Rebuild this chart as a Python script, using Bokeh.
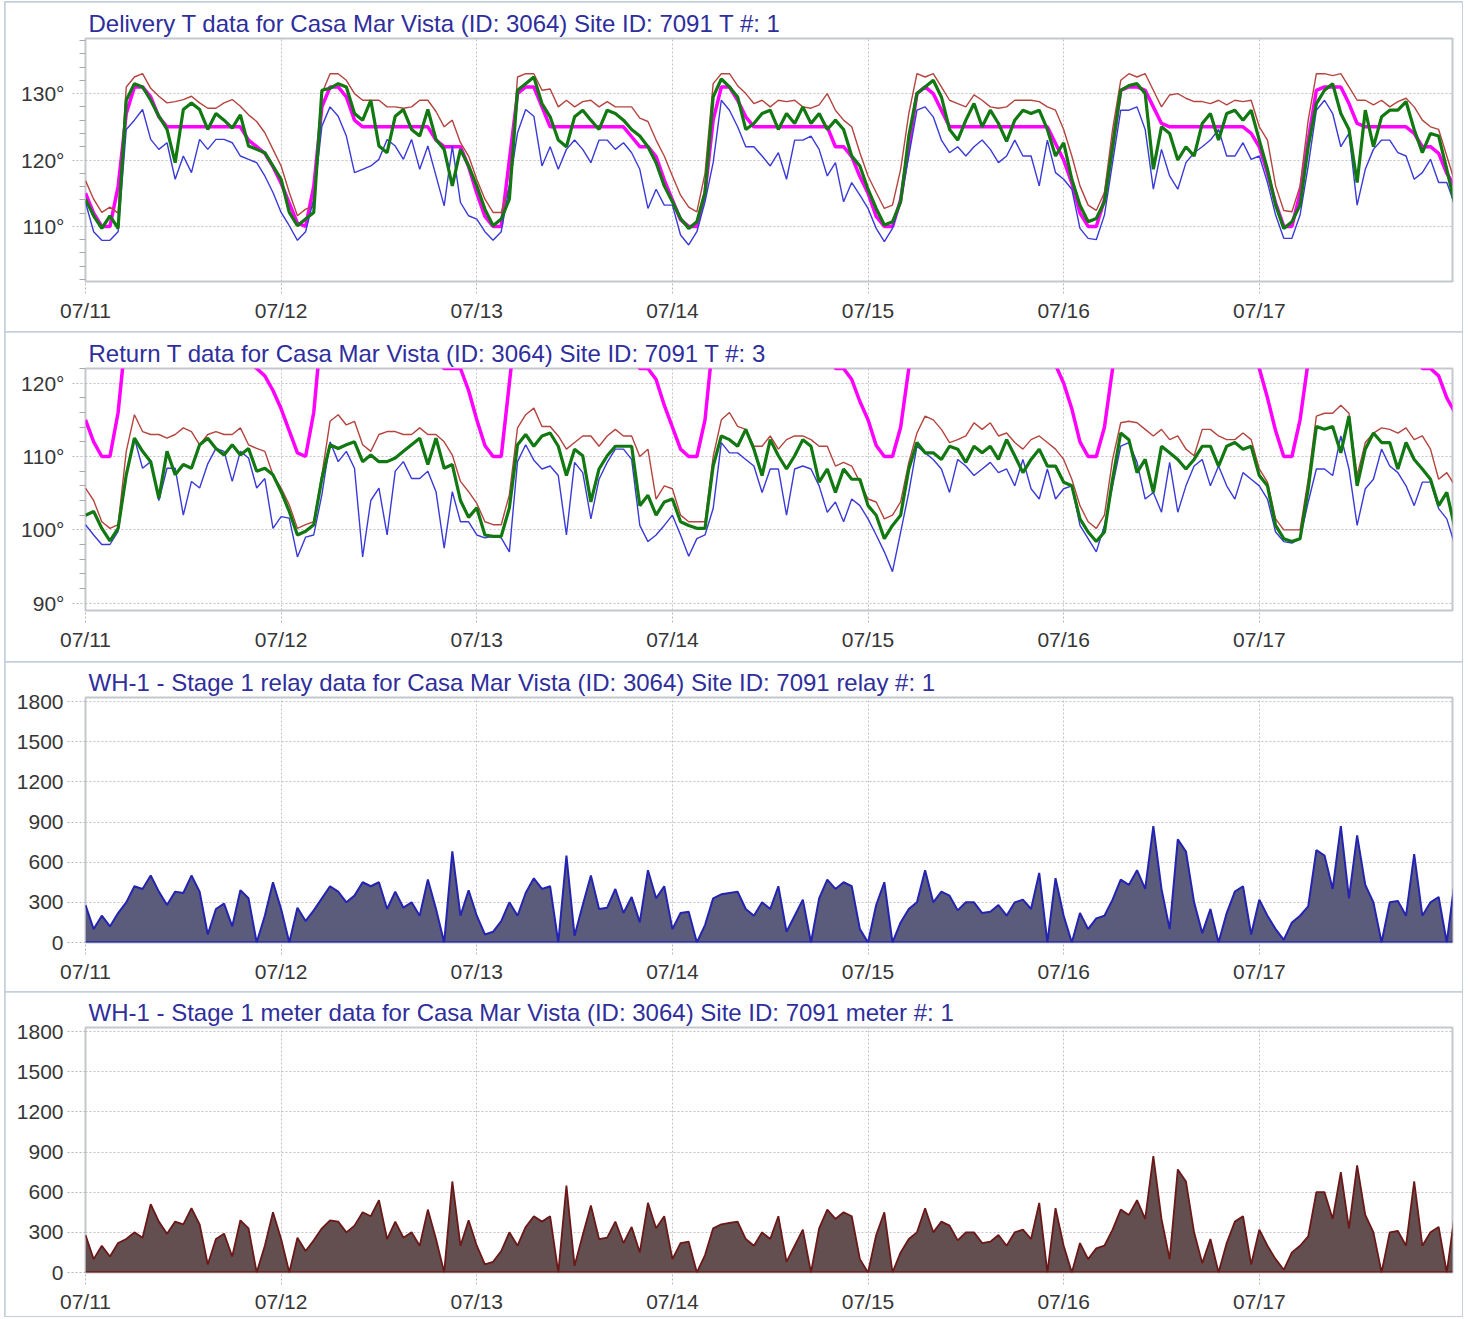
import numpy as np
from bokeh.plotting import figure
from bokeh.models import FixedTicker, Span, Range1d
from bokeh.layouts import column
from bokeh.embed import file_html
from bokeh.resources import INLINE

# ---------------- data ----------------
day_labels = ["07/11", "07/12", "07/13", "07/14", "07/15", "07/16", "07/17"]
day_ticks = [0, 24, 48, 72, 96, 120, 144]   # hours since 07/11 00:00

titles = [
    "Delivery T data for Casa Mar Vista (ID: 3064) Site ID: 7091 T #: 1",
    "Return T data for Casa Mar Vista (ID: 3064) Site ID: 7091 T #: 3",
    "WH-1 - Stage 1 relay data for Casa Mar Vista (ID: 3064) Site ID: 7091 relay #: 1",
    "WH-1 - Stage 1 meter data for Casa Mar Vista (ID: 3064) Site ID: 7091 meter #: 1",
]

temp1_ticks = [110, 120, 130]
temp2_ticks = [90, 100, 110, 120]
kw_ticks = [0, 300, 600, 900, 1200, 1500, 1800]

# hourly values, 07/11 00:00 .. 07/18 00:00
setpoint = [
    115, 112, 110, 110, 116, 127, 131, 131, 129.5, 126.5, 125, 125, 125, 125, 125, 125, 125, 125, 125, 125, 123, 122, 121, 119,
    116.5, 113.5, 110.5, 110, 116, 128, 131, 131, 129.5, 126, 125, 125, 125, 125, 125, 125, 125, 125, 125, 123, 122, 122, 122, 119,
    115, 111.5, 110, 110, 120, 130, 131, 131, 128, 125, 125, 125, 125, 125, 125, 125, 125, 125, 125, 123.5, 122, 122, 120.5, 117,
    114, 111, 110, 110, 115, 126, 131, 131, 129, 126.5, 125, 125, 125, 125, 125, 125, 125, 125, 125, 125, 122, 122, 120.5, 117.5,
    115, 111.5, 110, 110, 114, 122, 130, 131, 130, 127.5, 125, 125, 125, 125, 125, 125, 125, 125, 125, 125, 125, 125, 125, 122.5,
    120, 116.5, 112, 110, 110, 114, 122, 130.5, 131, 131, 130.5, 128, 125.5, 125, 125, 125, 125, 125, 125, 125, 125, 125, 125, 124,
    122, 118, 113.5, 110, 110, 115, 123, 130.5, 131, 131, 131, 128.5, 125.5, 125, 125, 125, 125, 125, 125, 124, 122, 122, 121, 118,
    116,
]
delivery_max = [
    116.9, 114.1, 112.1, 112.9, 112, 131, 132.5, 133, 130.8, 129.6, 128.6, 128.8, 129.1, 129.6, 128.6, 127.8, 127.8, 128.6, 129.1, 128.1, 126.8, 125.8, 124.1, 121.6,
    119.1, 115.1, 111.6, 112.6, 113, 130, 133, 133, 132, 130, 129, 129, 129, 128, 128, 127.8, 128, 129, 129, 127.3, 125, 126, 122.6, 120.6,
    117.1, 114.1, 112.1, 112.1, 116, 132.5, 133, 133, 130.5, 130.7, 128, 129, 128, 128.8, 129, 128, 128.8, 128, 128, 128, 126.3, 125.8, 123, 120.6,
    117.6, 114.7, 112.9, 112.2, 118, 131.5, 133, 133, 131.2, 130, 128.5, 129, 128, 129, 128.8, 129, 128, 127.8, 128.3, 130, 127.5, 126, 125, 121.1,
    117.6, 115.1, 112.7, 113.2, 118.6, 127, 133, 132.5, 133, 131, 129, 128.5, 128, 129.8, 129, 128, 127.8, 128, 129, 129, 129, 128.8, 128, 127.5,
    124.6, 120.6, 116.1, 113.2, 112.4, 115.1, 124.6, 132, 133, 132.5, 133, 130.5, 128, 129.8, 130, 129.3, 128.8, 128.8, 128.5, 129, 128.3, 129, 128.8, 129,
    125, 123, 116.1, 112.4, 112.2, 116.1, 126, 133, 133, 132.7, 133, 131, 129, 129, 128.3, 129, 128, 128.8, 129.3, 128, 126, 125, 124.6, 120.6,
    116.6,
]
delivery_avg = [
    114.1, 111.6, 109.7, 111.6, 109.7, 129, 131.5, 131, 129, 126.6, 124.6, 119.6, 127.6, 128.6, 127.6, 124.6, 127, 126, 124.8, 126.8, 122.1, 121.6, 121.1, 119.1,
    117.1, 112.1, 110.1, 111.1, 112.1, 130.5, 130.8, 131.5, 131, 127, 126, 129, 122.1, 121.1, 126.6, 127.6, 124.6, 123.6, 127.6, 123.1, 121.6, 116.1, 121.6, 119.1,
    116.1, 112.6, 110.1, 111.1, 114.1, 130.5, 131.5, 132.5, 128.5, 126.5, 123, 122, 126.5, 127.5, 126, 124.6, 127.5, 127, 126, 124.6, 123.6, 122, 119.6, 116.1,
    113.7, 111.2, 109.7, 110.7, 115.1, 129.5, 132.2, 131, 129.5, 124.6, 125.5, 127, 127.5, 124.6, 127, 125.5, 128, 125.5, 127, 124.6, 126, 124.6, 120.6, 119.1,
    115.6, 112.7, 110.2, 110.7, 113.7, 123.6, 130, 131, 132, 129.5, 124.6, 123, 126, 128.5, 125, 127.5, 125.5, 122.8, 126, 127.5, 127, 127.5, 124.6, 120.6,
    122.6, 117.1, 113.2, 110.7, 111.2, 113.7, 122, 130.5, 131.2, 131.5, 130, 118.6, 125, 124, 120, 122, 120.6, 125.5, 127, 123, 127, 127.5, 126, 127.5,
    123, 118.6, 113.2, 109.7, 110.7, 113.2, 122, 128.5, 130.5, 131.5, 127, 124.6, 116.6, 127.5, 122, 126.5, 127.5, 127.5, 128.8, 124.6, 121.1, 124, 123.6, 118.6,
    113.2,
]
delivery_min = [
    113.6, 109.2, 107.9, 107.9, 109.2, 124.6, 126, 127.6, 123.1, 121.6, 122.6, 117.1, 120.6, 118.1, 123.1, 121.6, 123.1, 123.1, 122.6, 120.6, 120.1, 119.6, 117.6, 115.1,
    112.1, 110.1, 107.9, 109.2, 114.1, 125.1, 128, 126.6, 123.6, 118.1, 118.6, 119.1, 120.1, 123.1, 122.1, 120.1, 123.1, 118.6, 122.1, 117.6, 113.1, 122.1, 113.6, 111.6,
    111.1, 109.2, 107.9, 109.2, 116.1, 124.1, 127.6, 126.6, 119.1, 122, 118.6, 121.6, 123, 121.6, 119.6, 123, 123, 121.6, 122.6, 121.1, 118.6, 112.7, 115.6, 113.2,
    113.2, 108.7, 107.2, 109.2, 113.7, 119.6, 129, 127.5, 125, 122, 122, 120.6, 119.1, 121.1, 117.1, 123, 123, 123.6, 121.6, 117.6, 119.6, 113.7, 116.6, 114.7,
    112.7, 109.7, 107.7, 109.7, 113.7, 120.6, 127.5, 128, 126.5, 123, 121.1, 122, 120.6, 122, 123, 121.6, 119.6, 120.6, 123, 120.6, 120.6, 116.1, 123, 118.1,
    117.1, 115.6, 109.7, 108.2, 108, 111.7, 119.6, 127.5, 127.5, 128, 124.6, 115.6, 121.6, 117.6, 115.6, 119.6, 121.1, 122, 123, 124.6, 120.6, 120.6, 122.6, 120.1,
    120.6, 116.6, 111.7, 108.2, 108.2, 111.7, 119.1, 127.5, 129, 127, 122, 124, 113.2, 118.6, 121.6, 123, 123, 121.1, 120.6, 117.1, 118.1, 120.1, 116.6, 116.6,
    113.2,
]
return_max = [
    105.7, 104, 101.1, 100.2, 100.7, 110.7, 115.7, 113.4, 113, 113, 112.5, 113, 113.9, 113.4, 111.6, 113, 113.4, 113, 113, 113.9, 111.6, 111.1, 110.7, 107.5,
    105.7, 103.4, 100.2, 100.7, 101.1, 107.5, 114.8, 115.7, 114.3, 114.8, 111.6, 110.7, 113, 113.4, 113.4, 113, 113, 113.9, 113, 113, 112, 110.2, 106.6, 105.2,
    103.6, 101.1, 100.7, 100.7, 104.8, 113.9, 115.7, 116.6, 114.1, 114.1, 112.8, 111, 111.9, 112.8, 112.8, 111.4, 112.8, 113.7, 112.8, 112.8, 110, 111, 104.2, 106,
    105.6, 102, 101.1, 101.1, 101.1, 110, 115, 116, 114.1, 113.7, 111.4, 111.4, 112.8, 111, 112.3, 112.8, 112.8, 112.3, 111.4, 111.4, 108.7, 109.2, 108.7, 106.5,
    104.2, 103.8, 101.5, 102, 103.8, 109.2, 113.2, 115.5, 115, 113.7, 111.9, 112.3, 112.8, 114.6, 113.7, 114.6, 112.8, 113.2, 111.9, 111, 112.3, 112.8, 111.9, 111,
    109.6, 106.9, 103.3, 101.1, 100.2, 102, 109.6, 114.6, 114.8, 114.6, 113.7, 112.8, 113.7, 112.3, 112.8, 111, 110.1, 113.7, 113.7, 112.8, 112.3, 112.3, 113.2, 112.3,
    108.3, 106.5, 101.5, 100, 100, 100, 106.9, 115.5, 115.9, 115.9, 117, 115.9, 107.4, 111.9, 113.2, 113.9, 113.7, 113.2, 113.9, 112.3, 112.8, 111, 106.9, 107.8,
    106,
]
return_avg = [
    102, 102.5, 100.2, 98.5, 100.2, 107.5, 112.5, 110.7, 109.3, 104.3, 110.7, 107.5, 108.9, 108.4, 111.6, 112.5, 111.1, 110.2, 111.6, 110.2, 111.1, 108, 108.4, 107.5,
    105.2, 102.5, 99.3, 99.8, 100.7, 107, 111.6, 111.1, 111.6, 112, 109.3, 110.2, 109.3, 109.3, 109.8, 110.7, 111.6, 112.5, 108.9, 112.5, 108.4, 108.9, 104, 101.7,
    103, 99.3, 99.1, 99.1, 103, 111.6, 113, 111.4, 112.8, 113.2, 111.4, 107.4, 111, 110.1, 103.8, 108.3, 110.1, 111.4, 111.4, 111.4, 103.3, 104.7, 102, 103.8,
    104.2, 101.1, 100.6, 100.2, 100.2, 108.7, 112.8, 112.3, 111.4, 113.7, 111, 107.4, 112.3, 110.1, 108.3, 110.1, 112.3, 111.4, 106.5, 108.3, 105.1, 108.3, 106.9, 106.9,
    103.3, 102, 98.8, 100.6, 102, 108.3, 111.9, 110.5, 110.5, 109.6, 111.4, 111, 109.2, 111.4, 110.5, 111.4, 109.6, 112.3, 110.1, 107.8, 109.6, 111, 108.7, 108.7,
    106.5, 106, 101.5, 99.7, 98.4, 99.7, 106.9, 113.2, 112.3, 107.8, 109.6, 105.1, 111.4, 110.5, 109.6, 108.3, 109.6, 111.4, 111.4, 108.7, 111.4, 111.9, 111, 111.4,
    107.4, 106, 100.6, 98.8, 98.4, 98.8, 105.6, 114.1, 113.7, 114.1, 110.5, 115.5, 106, 111, 113.2, 111.9, 111.9, 108.3, 111.9, 109.6, 108.3, 106.9, 103.3, 105.1,
    100.2,
]
return_min = [
    100.7, 99.3, 98, 98, 99.8, 107.5, 112.5, 108.4, 109.3, 104, 108.4, 108.4, 102, 106.6, 105.7, 109, 111.1, 110.7, 106.6, 110.7, 109.8, 105.7, 107, 100.2,
    101.8, 101.6, 96.3, 99, 99.3, 104.8, 112, 109.3, 110.7, 108.4, 96.3, 104, 105.7, 99.3, 108, 109.3, 107, 107, 108, 105.2, 97.5, 105.2, 101.1, 101.1,
    99.3, 98.9, 99.1, 98.9, 97, 109.3, 111.6, 109.5, 108.3, 108.7, 107.4, 99.3, 109.2, 107.8, 101.5, 106.9, 109.2, 111, 111, 109.6, 100.6, 98.4, 99.3, 100.6,
    102, 99.3, 96.4, 98.8, 99.3, 102.9, 111.9, 110.5, 110.5, 109.6, 108.7, 105.1, 108.3, 108.3, 102, 108.3, 108.7, 108.3, 106, 102.4, 103.8, 101.1, 104.2, 103.3,
    101.5, 99.3, 97, 94.3, 99.7, 105.1, 111.4, 110.5, 109.6, 108.3, 105.1, 109.6, 108.7, 107.4, 108.3, 109.2, 107.8, 108.3, 106, 109.6, 105.6, 104.2, 108.3, 104.2,
    105.6, 106, 100.6, 98.8, 97, 100.6, 106, 111.4, 111.9, 109.2, 104.2, 105.1, 102.4, 109.2, 102.4, 106, 108.7, 109.6, 106, 108.7, 106, 104.2, 107.8, 106.9,
    106, 104.2, 99.7, 98.4, 98.2, 98.8, 103.8, 108.3, 108.3, 107.4, 112.8, 108.3, 100.6, 105.6, 106.9, 111, 108.7, 107.8, 106, 103.3, 106.5, 106.5, 102.9, 101.5,
    97.9,
]
relay = [
    280, 100, 200, 120, 220, 300, 420, 400, 500, 380, 280, 380, 370, 500, 380, 60, 250, 290, 120, 390, 330, 0, 200, 450,
    250, 0, 260, 160, 240, 330, 420, 380, 300, 350, 450, 420, 450, 250, 380, 260, 300, 200, 470, 250, 0, 680, 200, 390,
    200, 60, 80, 160, 300, 200, 370, 480, 400, 420, 0, 650, 50, 280, 500, 250, 260, 400, 220, 340, 150, 540, 330, 420,
    100, 220, 230, 0, 130, 330, 360, 370, 380, 250, 200, 300, 250, 420, 80, 200, 320, 0, 330, 470, 400, 450, 420, 100,
    0, 280, 450, 0, 150, 250, 300, 540, 300, 380, 350, 240, 300, 300, 220, 230, 280, 200, 300, 320, 250, 520, 0, 480,
    200, 0, 220, 100, 180, 200, 320, 470, 430, 540, 400, 870, 400, 100, 770, 680, 300, 70, 250, 0, 220, 380, 420, 60,
    320, 200, 100, 20, 150, 200, 270, 690, 650, 400, 870, 330, 800, 430, 300, 0, 300, 310, 200, 660, 200, 300, 340, 0,
    470,
]
meter = [
    280, 100, 200, 120, 220, 250, 300, 260, 510, 380, 290, 380, 360, 480, 360, 60, 250, 290, 120, 390, 330, 0, 200, 450,
    250, 0, 260, 160, 240, 330, 390, 380, 300, 350, 450, 420, 540, 250, 380, 260, 300, 200, 470, 250, 0, 680, 200, 390,
    200, 60, 80, 160, 300, 200, 340, 420, 380, 420, 0, 650, 50, 280, 500, 250, 260, 380, 220, 340, 150, 520, 330, 420,
    100, 220, 230, 0, 130, 330, 360, 370, 380, 250, 200, 300, 250, 420, 80, 200, 320, 0, 330, 470, 400, 450, 420, 100,
    0, 280, 450, 0, 150, 250, 300, 480, 300, 380, 350, 240, 300, 300, 220, 230, 280, 200, 300, 320, 250, 520, 0, 480,
    200, 0, 220, 100, 180, 200, 320, 470, 430, 540, 400, 870, 400, 100, 770, 680, 300, 70, 250, 0, 220, 380, 420, 60,
    320, 200, 100, 20, 150, 200, 270, 600, 600, 400, 750, 330, 800, 430, 300, 0, 300, 310, 200, 680, 200, 300, 340, 0,
    450,
]

hours = np.arange(len(setpoint))

# ---------------- styling ----------------
FONT = "Liberation Sans"
TITLE_COLOR = "#2e2e9c"
LABEL_COLOR = "#363636"
FRAME_W = 1367
X_END = 167.7


def make_fig(title, top, frame_h, bottom, yr, yticks, ylabels, minor, tick_out, standoff, x_standoff):
    p = figure(frame_width=FRAME_W, frame_height=frame_h,
               x_range=Range1d(0, X_END), y_range=Range1d(*yr),
               output_backend="svg", toolbar_location=None,
               min_border_left=80, min_border_right=10,
               min_border_top=top, min_border_bottom=bottom,
               background_fill_color="white", border_fill_color="white")
    p.styles = {"outline": "2px solid #c4cfdb", "outline-offset": "-1px"}
    p.title.text = title
    p.title.text_font = FONT
    p.title.text_font_size = "24px"
    p.title.text_font_style = "normal"
    p.title.text_color = TITLE_COLOR
    p.title.offset = 3
    p.title.standoff = 3
    p.outline_line_color = "#c4c8cd"
    p.outline_line_width = 2

    # x axis
    xa = p.xaxis[0]
    xa.ticker = FixedTicker(ticks=day_ticks, minor_ticks=[])
    xa.major_label_overrides = {t: l for t, l in zip(day_ticks, day_labels)}
    xa.axis_line_color = None
    xa.major_tick_line_color = "#b8b8b8"
    xa.major_tick_line_dash = "2 2"
    xa.major_tick_out = 12
    xa.major_tick_in = 0
    xa.minor_tick_line_color = None
    xa.major_label_standoff = x_standoff
    xa.major_label_text_font = FONT
    xa.major_label_text_font_size = "21px"
    xa.major_label_text_color = LABEL_COLOR

    # y axis
    ya = p.yaxis[0]
    ya.ticker = FixedTicker(ticks=yticks, minor_ticks=minor)
    ya.major_label_overrides = {t: l for t, l in zip(yticks, ylabels)}
    ya.axis_line_color = None
    ya.major_tick_line_color = "#b8b8b8"
    ya.major_tick_line_dash = "2 2"
    ya.major_tick_out = tick_out
    ya.major_tick_in = 0
    if minor:
        ya.minor_tick_line_color = "#a8a8a8"
        ya.minor_tick_out = 6
        ya.minor_tick_in = 0
    else:
        ya.minor_tick_line_color = None
    ya.major_label_standoff = standoff
    ya.major_label_text_font = FONT
    ya.major_label_text_font_size = "21px"
    ya.major_label_text_color = LABEL_COLOR

    for g in (p.xgrid[0], p.ygrid[0]):
        g.grid_line_color = "#c2c2c2"
        g.grid_line_dash = "2 2"
        g.grid_line_width = 1
    return p


minor1 = [v for v in range(102, 139, 2) if v not in temp1_ticks]
minor2 = [v for v in range(90, 123, 2) if v not in temp2_ticks]

p1 = make_fig(titles[0], 36, 243, 51, (101.7, 138.3), temp1_ticks,
              [f"{t}°" for t in temp1_ticks], minor1, 13, 8, 5)
p1.line(hours, setpoint, line_color="#ff00ff", line_width=3.5)
p1.line(hours, delivery_max, line_color="#b5443f", line_width=1.4)
p1.line(hours, delivery_min, line_color="#3a3ad8", line_width=1.4)
p1.line(hours, delivery_avg, line_color="#127812", line_width=3.2)

p2 = make_fig(titles[1], 36, 242, 52, (89.0, 122.0), temp2_ticks,
              [f"{t}°" for t in temp2_ticks], minor2, 13, 8, 5)
p2.line(hours, setpoint, line_color="#ff00ff", line_width=3.5)
p2.line(hours, return_max, line_color="#b5443f", line_width=1.4)
p2.line(hours, return_min, line_color="#3a3ad8", line_width=1.4)
p2.line(hours, return_avg, line_color="#127812", line_width=3.2)

p3 = make_fig(titles[2], 35, 245, 50, (0, 1830), kw_ticks,
              [str(t) for t in kw_ticks], [], 18, 4, 5)
p3.varea(x=hours, y1=0, y2=relay, fill_color="#5b5b7b", fill_alpha=1.0)
p3.line(hours, relay, line_color="#2424b0", line_width=2)
p3.add_layout(Span(location=0, dimension="width", line_color="#2424b0", line_width=2.5))

p4 = make_fig(titles[3], 35, 245, 44, (0, 1830), kw_ticks,
              [str(t) for t in kw_ticks], [], 18, 4, 5)
p4.varea(x=hours, y1=0, y2=meter, fill_color="#634f4f", fill_alpha=1.0)
p4.line(hours, meter, line_color="#6b1818", line_width=1.8)
p4.add_layout(Span(location=0, dimension="width", line_color="#6b1818", line_width=2.5))

layout = column(p1, p2, p3, p4, spacing=0, margin=(2, 0, 0, 5))
open("out.html", "w").write(file_html(layout, INLINE))
